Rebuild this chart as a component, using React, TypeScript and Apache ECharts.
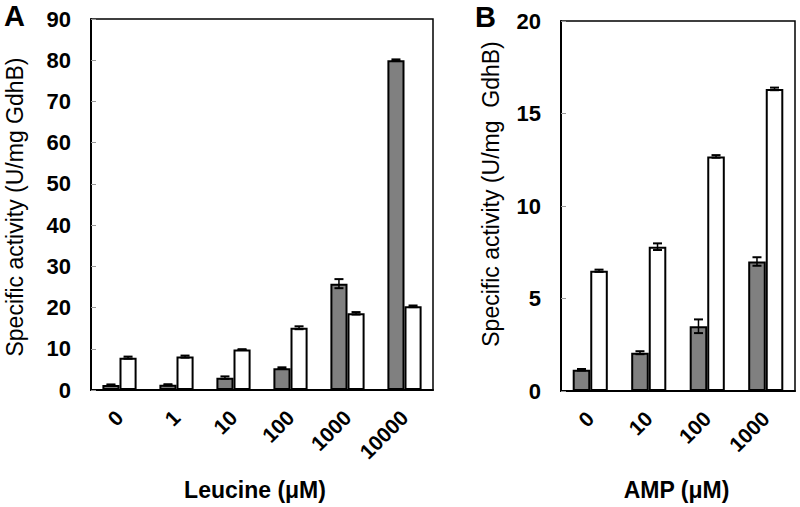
import React, { useEffect, useRef } from "react";
import * as echarts from "echarts";

const leucineCategories = ["0", "1", "10", "100", "1000", "10000"];
const leucineGray = [1.2, 1.25, 3.0, 5.3, 25.8, 80.0];
const leucineGrayErr = [0.15, 0.15, 0.3, 0.2, 1.1, 0.2];
const leucineWhite = [7.85, 8.1, 9.8, 15.1, 18.6, 20.3];
const leucineWhiteErr = [0.25, 0.25, 0.1, 0.35, 0.3, 0.2];

const ampCategories = ["0", "10", "100", "1000"];
const ampGray = [1.15, 2.07, 3.5, 7.0];
const ampGrayErr = [0.04, 0.08, 0.37, 0.23];
const ampWhite = [6.5, 7.8, 12.68, 16.33];
const ampWhiteErr = [0.06, 0.18, 0.07, 0.07];

const FONT = "'Liberation Sans', Arial, Helvetica, sans-serif";

function errorSeries(xi: number, vals: number[], errs: number[], sign: number) {
  return {
    type: "custom",
    xAxisIndex: xi,
    yAxisIndex: xi,
    z: 10,
    silent: true,
    encode: { x: 0, y: 1 },
    data: vals.map((v, i) => [i, v, errs[i]]),
    renderItem: (params: any, api: any) => {
      const idx = api.value(0);
      const v = api.value(1);
      const e = api.value(2);
      const band = api.size([1, 0])[0];
      const x = api.coord([idx, v])[0] + sign * band * 0.15;
      const yTop = api.coord([idx, v + e])[1];
      const yBot = api.coord([idx, v - e])[1];
      const cap = 4.5;
      const st = { stroke: "#000", lineWidth: 2 };
      return {
        type: "group",
        children: [
          { type: "line", shape: { x1: x, y1: yTop, x2: x, y2: yBot }, style: { stroke: "#000", lineWidth: 1.5 } },
          { type: "line", shape: { x1: x - cap, y1: yTop, x2: x + cap, y2: yTop }, style: st },
          { type: "line", shape: { x1: x - cap, y1: yBot, x2: x + cap, y2: yBot }, style: st },
        ],
      };
    },
  };
}

function barSeries(xi: number, vals: number[], color: string) {
  return {
    type: "bar",
    xAxisIndex: xi,
    yAxisIndex: xi,
    data: vals,
    barGap: "0%",
    barCategoryGap: "40%",
    itemStyle: { color, borderColor: "#000", borderWidth: 2 },
  };
}

function xAxisCfg(gi: number, cats: string[]) {
  return {
    type: "category",
    gridIndex: gi,
    data: cats,
    axisLine: { lineStyle: { color: "#000", width: 2 } },
    axisTick: { inside: true, length: 6, lineStyle: { color: "#999", width: 1 } },
    axisLabel: {
      interval: 0,
      rotate: 45,
      margin: 24,
      color: "#000",
      fontSize: 21,
      fontWeight: "bold",
      fontFamily: FONT,
    },
  };
}

function yAxisCfg(gi: number, max: number, interval: number) {
  return {
    type: "value",
    gridIndex: gi,
    min: 0,
    max,
    interval,
    splitLine: { show: false },
    axisLine: { show: true, lineStyle: { color: "#000", width: 2 } },
    axisTick: { show: true, inside: true, length: 5, lineStyle: { color: "#999", width: 1 } },
    axisLabel: {
      margin: 20,
      color: "#000",
      fontSize: 22,
      fontWeight: "bold",
      fontFamily: FONT,
    },
  };
}

export default function App() {
  const ref = useRef<HTMLDivElement>(null);
  useEffect(() => {
    if (!ref.current) return;
    const chart = echarts.init(ref.current, undefined, { renderer: "svg" });
    chart.setOption({
      animation: false,
      backgroundColor: "#fff",
      grid: [
        { left: 91, top: 19, width: 342, height: 371, show: true, borderColor: "#000", borderWidth: 1.5 },
        { left: 561, top: 21, width: 234, height: 370, show: true, borderColor: "#000", borderWidth: 1.5 },
      ],
      xAxis: [xAxisCfg(0, leucineCategories), xAxisCfg(1, ampCategories)],
      yAxis: [yAxisCfg(0, 90, 10), yAxisCfg(1, 20, 5)],
      series: [
        barSeries(0, leucineGray, "#808080"),
        barSeries(0, leucineWhite, "#ffffff"),
        barSeries(1, ampGray, "#808080"),
        barSeries(1, ampWhite, "#ffffff"),
        errorSeries(0, leucineGray, leucineGrayErr, -1),
        errorSeries(0, leucineWhite, leucineWhiteErr, 1),
        errorSeries(1, ampGray, ampGrayErr, -1),
        errorSeries(1, ampWhite, ampWhiteErr, 1),
      ],
      graphic: [
        { type: "text", x: 4, y: 1, style: { text: "A", font: `bold 29px ${FONT}`, fill: "#000", verticalAlign: "top" } },
        { type: "text", x: 475, y: 2, style: { text: "B", font: `bold 29px ${FONT}`, fill: "#000", verticalAlign: "top" } },
        {
          type: "text",
          x: 15,
          y: 207,
          rotation: Math.PI / 2,
          style: { text: "Specific activity (U/mg GdhB)", font: `23px ${FONT}`, fill: "#000", align: "center", verticalAlign: "middle" },
        },
        {
          type: "text",
          x: 490.5,
          y: 194,
          rotation: Math.PI / 2,
          style: { text: "Specific activity (U/mg  GdhB)", font: `23px ${FONT}`, fill: "#000", align: "center", verticalAlign: "middle" },
        },
        {
          type: "text",
          x: 255,
          y: 490,
          style: { text: "Leucine (\u03bcM)", font: `bold 23px ${FONT}`, fill: "#000", align: "center", verticalAlign: "middle" },
        },
        {
          type: "text",
          x: 676.5,
          y: 490,
          style: { text: "AMP (\u03bcM)", font: `bold 23px ${FONT}`, fill: "#000", align: "center", verticalAlign: "middle" },
        },
      ],
    });
    return () => chart.dispose();
  }, []);
  return <div ref={ref} style={{ position: "fixed", left: 0, top: 0, width: 800, height: 507 }} />;
}
